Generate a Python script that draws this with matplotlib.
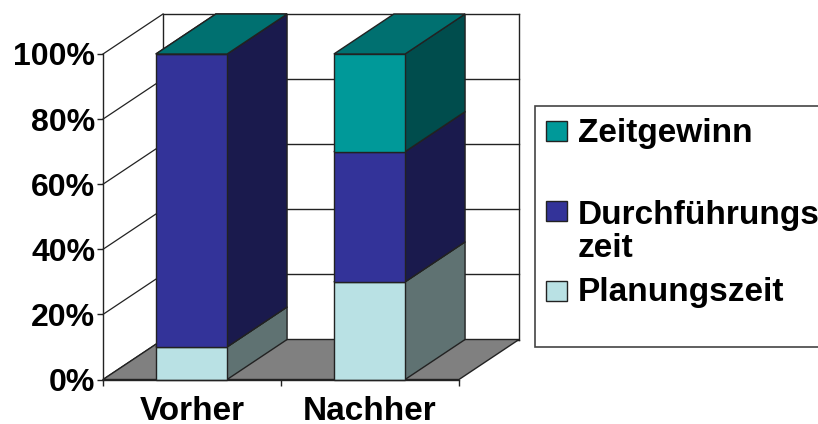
import matplotlib
matplotlib.use("Agg")
import matplotlib.pyplot as plt
from matplotlib.patches import Rectangle

plt.rcParams['font.family'] = ['Liberation Sans', 'DejaVu Sans']

categories = ["Vorher", "Nachher"]
planung = [10, 30]
durchfuehrung = [90, 40]
zeitgewinn = [0, 30]
y_ticks = [0, 20, 40, 60, 80, 100]

series = [planung, durchfuehrung, zeitgewinn]
# front, side, top colour per series
colors = [("#b9e1e4", "#5f7272", "#5f7272"),
          ("#333399", "#1a1a4d", "#1a1a4d"),
          ("#009999", "#004d4d", "#007070")]
legend_names = ["Zeitgewinn", "Durchführungs\nzeit", "Planungszeit"]
legend_colors = ["#009999", "#333399", "#b9e1e4"]

W, H = 818, 424
fig = plt.figure(figsize=(W / 100, H / 100), dpi=100)
ax = fig.add_axes([103 / W, (H - 379.5) / H, 356 / W, 325.5 / H])
ax.set_xlim(0, 2)
ax.set_ylim(0, 100)
ax.patch.set_visible(False)

# depth of the fake 3d box in data units
dx = 60 / 178
dy = 40 / 3.255
bar_w = 0.4
line = "#222222"


def poly(xs, ys, color, z):
    ax.fill(xs, ys, facecolor=color, edgecolor=line, linewidth=1.0, zorder=z, clip_on=False)


# walls and gridlines
for t in y_ticks:
    ax.plot([0, dx], [t, t + dy], color=line, lw=0.9, zorder=1, clip_on=False)
    ax.plot([dx, 2 + dx], [t + dy, t + dy], color=line, lw=1.0, zorder=1, clip_on=False)
ax.plot([dx, dx], [dy, 100 + dy], color=line, lw=1.0, zorder=1, clip_on=False)
ax.plot([2 + dx, 2 + dx], [dy, 100 + dy], color=line, lw=1.0, zorder=1, clip_on=False)

# floor
poly([0, 2, 2 + dx, dx], [0, 0, dy, dy], "#808080", 2)

# stacked bars
z = 3
for i in range(len(categories)):
    x0 = i + 0.5 - bar_w / 2 - 0.003
    x1 = x0 + bar_w
    bottom = 0
    for s, (front, side, top) in zip(series, colors):
        h = s[i]
        y0, y1 = bottom, bottom + h
        poly([x1, x1 + dx, x1 + dx, x1], [y0, y0 + dy, y1 + dy, y1], side, z)
        poly([x0, x1, x1, x0], [y0, y0, y1, y1], front, z)
        poly([x0, x1, x1 + dx, x0 + dx], [y1, y1, y1 + dy, y1 + dy], top, z)
        bottom = y1
        z += 1

for side in ["top", "right"]:
    ax.spines[side].set_visible(False)
for side in ["left", "bottom"]:
    ax.spines[side].set_color(line)
    ax.spines[side].set_linewidth(1.0)
    ax.spines[side].set_zorder(50)

ax.set_yticks(y_ticks)
ax.set_yticklabels(["{}%".format(t) for t in y_ticks], fontsize=23, fontweight="bold")
ax.tick_params(axis="y", length=4.5, width=1.0, color=line, pad=1)
ax.set_xticks([0, 1, 2])
ax.set_xticklabels([])
ax.tick_params(axis="x", which="major", length=4.5, width=1.0, color=line)
ax.set_xticks([0.5, 1.5], minor=True)
ax.set_xticklabels(categories, minor=True, fontsize=24, fontweight="bold")
ax.tick_params(axis="x", which="minor", length=0, pad=12)

# legend box, runs off the right edge like the original
fig.patches.append(Rectangle((535 / W, (H - 347) / H), 300 / W, 241 / H, transform=fig.transFigure,
                             facecolor="white", edgecolor="#444444", linewidth=1.2))
marker_y = [131, 211, 291]
text_y = [142, 224, 301]
for name, col, my, ty in zip(legend_names, legend_colors, marker_y, text_y):
    fig.patches.append(Rectangle((546 / W, (H - my - 10) / H), 21 / W, 20 / H, transform=fig.transFigure,
                                 facecolor=col, edgecolor="#222222", linewidth=1.0))
    lines = name.split("\n")
    for k, part in enumerate(lines):
        fig.text(578 / W, (H - ty - k * 33) / H, part, fontsize=24, fontweight="bold", va="baseline")

fig.savefig("out.png", dpi=100)
